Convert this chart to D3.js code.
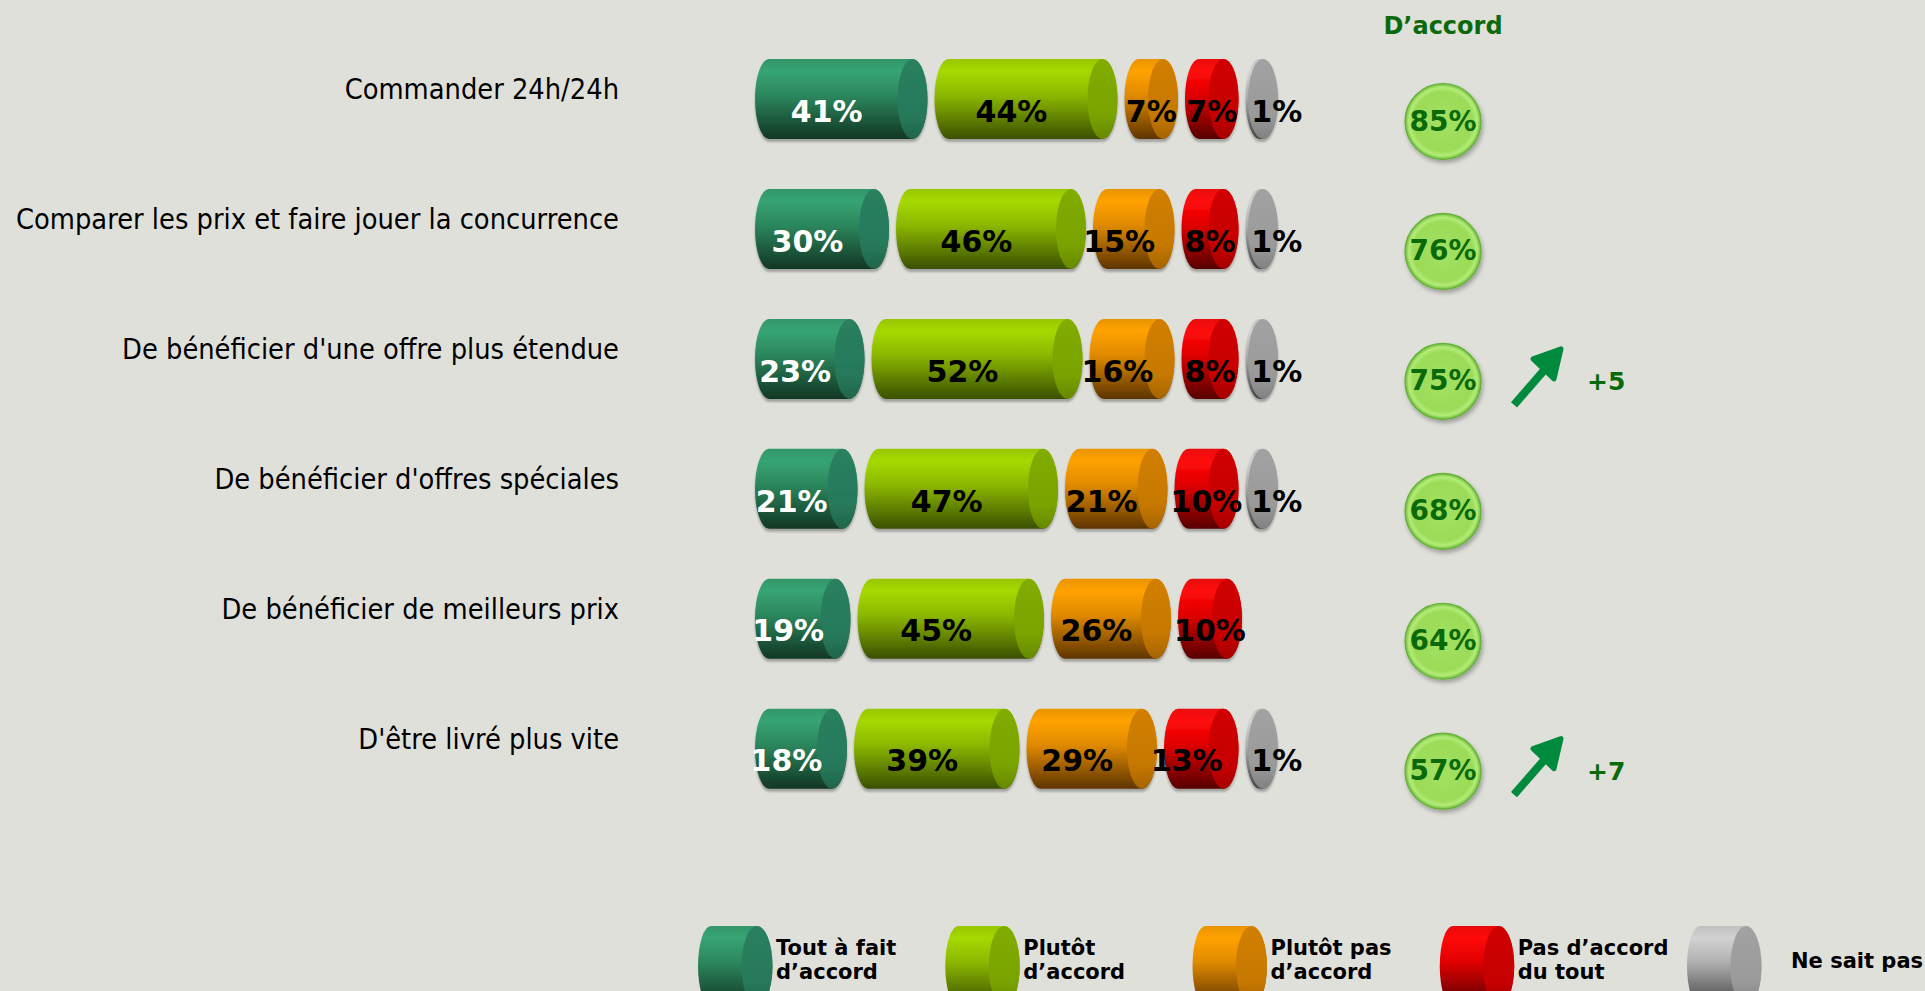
<!DOCTYPE html>
<html>
<head>
<meta charset="utf-8">
<script src="https://cdn.jsdelivr.net/npm/d3@7"></script>
<style>
  html, body { margin: 0; padding: 0; background: #e0e0db; overflow: hidden; }
  svg { display: block; }
</style>
</head>
<body>
<script>
// categories (rows, top to bottom)
const categories = [
  "Commander 24h/24h",
  "Comparer les prix et faire jouer la concurrence",
  "De bénéficier d'une offre plus étendue",
  "De bénéficier d'offres spéciales",
  "De bénéficier de meilleurs prix",
  "D'être livré plus vite"
];

// series values (%)
const toutAFait = [41, 30, 23, 21, 19, 18];
const plutot = [44, 46, 52, 47, 45, 39];
const plutotPas = [7, 15, 16, 21, 26, 29];
const pasDuTout = [7, 8, 8, 10, 10, 13];
const nsp = [1, 1, 1, 1, 0, 1];

const totalAccord = [85, 76, 75, 68, 64, 57];
const evolution = [null, null, 5, null, null, 7];

const legendLabels = [
  ["Tout à fait", "d’accord"],
  ["Plutôt", "d’accord"],
  ["Plutôt pas", "d’accord"],
  ["Pas d’accord", "du tout"],
  ["Ne sait pas"]
];

const series = [
  { key: "tout", values: toutAFait, top: "#37a473", mid: "#2c875d", bot: "#113624", cap: "#27795a", text: "#fff" },
  { key: "plutot", values: plutot, top: "#a6d900", mid: "#8cb800", bot: "#3a5000", cap: "#7aa300", text: "#000" },
  { key: "plutotpas", values: plutotPas, top: "#ffa200", mid: "#e08a00", bot: "#5e3400", cap: "#c67800", text: "#000" },
  { key: "pas", values: pasDuTout, top: "#ff0a0a", mid: "#e00000", bot: "#560000", cap: "#c60000", text: "#000" },
  { key: "nsp", values: nsp, top: "#d2d2d2", mid: "#b0b0b0", bot: "#444", cap: "#9a9a9a", text: "#000" }
];

const width = 1925, height = 991;
const barX0 = 755, gap = 7, rxL = 14, rxR = 15, ry = 40;

const svg = d3.select("body").append("svg")
  .attr("width", width).attr("height", height);

svg.append("rect").attr("width", width).attr("height", height).attr("fill", "#e0e0db");

const defs = svg.append("defs");
series.forEach(s => {
  const g = defs.append("linearGradient").attr("id", "body-" + s.key)
    .attr("x1", 0).attr("y1", 0).attr("x2", 0).attr("y2", 1);
  g.append("stop").attr("offset", "0%").attr("stop-color", d3.color(s.top).darker(0.25));
  g.append("stop").attr("offset", "15%").attr("stop-color", s.top);
  g.append("stop").attr("offset", "45%").attr("stop-color", s.mid);
  g.append("stop").attr("offset", "100%").attr("stop-color", s.bot);
  const c = defs.append("linearGradient").attr("id", "cap-" + s.key)
    .attr("x1", 0).attr("y1", 0).attr("x2", 0).attr("y2", 1);
  c.append("stop").attr("offset", "0%").attr("stop-color", d3.color(s.cap).brighter(0.15));
  c.append("stop").attr("offset", "70%").attr("stop-color", s.cap);
  c.append("stop").attr("offset", "100%").attr("stop-color", d3.color(s.cap).darker(0.5));
});

const shadow = defs.append("filter").attr("id", "shadow")
  .attr("x", "-20%").attr("y", "-20%").attr("width", "140%").attr("height", "140%");
shadow.append("feDropShadow").attr("dx", 0).attr("dy", 3).attr("stdDeviation", 1.2)
  .attr("flood-color", "#000").attr("flood-opacity", 0.28);

const ballShadow = defs.append("filter").attr("id", "ballShadow")
  .attr("x", "-30%").attr("y", "-30%").attr("width", "160%").attr("height", "160%");
ballShadow.append("feDropShadow").attr("dx", 1.5).attr("dy", 3).attr("stdDeviation", 2)
  .attr("flood-color", "#000").attr("flood-opacity", 0.3);

const ball = defs.append("radialGradient").attr("id", "ball")
  .attr("cx", "50%").attr("cy", "50%").attr("r", "50%");
ball.append("stop").attr("offset", "0%").attr("stop-color", "#a4e162");
ball.append("stop").attr("offset", "78%").attr("stop-color", "#9bdb58");
ball.append("stop").attr("offset", "90%").attr("stop-color", "#b3ec77");
ball.append("stop").attr("offset", "100%").attr("stop-color", "#6bb83c");

// scales
const y = d3.scalePoint().domain(categories).range([99, 748.7]);
const x = d3.scaleLinear().domain([0, 100]).range([0, 350]);

function cylPath(x0, len, cy, ry, rl, rr) {
  const a = x0 + rl, b = a + len;
  return `M${a},${cy - ry}L${b},${cy - ry}A${rr},${ry} 0 0 1 ${b},${cy + ry}` +
    `L${a},${cy + ry}A${rl},${ry} 0 0 1 ${a},${cy - ry}Z`;
}

// build segments
const segments = [];
categories.forEach((cat, i) => {
  let x0 = barX0;
  series.forEach((s, j) => {
    const v = s.values[i];
    if (!v) return;
    const len = x(v);
    const w = len + rxL + rxR;
    segments.push({ cat, v, s, j, x0, len, w, cy: y(cat) });
    x0 += w + gap;
  });
});

// category labels
svg.append("g").selectAll("text").data(categories).join("text")
  .attr("transform", d => `translate(619,${y(d)}) scale(0.89,1)`)
  .attr("text-anchor", "end")
  .attr("font-family", "DejaVu Sans, Verdana, sans-serif")
  .attr("font-size", 29)
  .attr("fill", "#000")
  .text(d => d);

// bars
const bars = svg.append("g").attr("filter", "url(#shadow)");
const seg = bars.selectAll("g").data(segments).join("g");
seg.append("path")
  .attr("d", d => cylPath(d.x0, d.len, d.cy, ry, rxL, rxR))
  .attr("fill", d => `url(#body-${d.s.key})`);
seg.append("ellipse")
  .attr("cx", d => d.x0 + rxL + d.len)
  .attr("cy", d => d.cy)
  .attr("rx", rxR).attr("ry", ry)
  .attr("fill", d => `url(#cap-${d.s.key})`);

// value labels
svg.append("g").selectAll("text").data(segments).join("text")
  .attr("x", d => {
    if (d.len > 40) return d.x0 + d.len / 2;
    return d.x0 + d.w / 2 + (d.j === 4 ? 15 : 0);
  })
  .attr("y", d => d.cy + 22.7)
  .attr("text-anchor", "middle")
  .attr("font-family", "DejaVu Sans, Verdana, sans-serif")
  .attr("font-weight", "bold")
  .attr("font-size", 30)
  .attr("fill", d => d.s.text)
  .text(d => d.v + "%");

// D'accord column
const ballX = 1443;
svg.append("text")
  .attr("x", ballX).attr("y", 34)
  .attr("text-anchor", "middle")
  .attr("font-family", "DejaVu Sans, Verdana, sans-serif")
  .attr("font-weight", "bold").attr("font-size", 24)
  .attr("fill", "#0a6a0a")
  .text("D’accord");

const balls = svg.append("g").selectAll("g").data(categories).join("g")
  .attr("transform", d => `translate(${ballX},${y(d) + 22.5})`);
balls.append("circle").attr("r", 38)
  .attr("fill", "url(#ball)")
  .attr("stroke", "#62b034").attr("stroke-width", 1.2)
  .attr("filter", "url(#ballShadow)");
balls.append("text")
  .attr("y", 9)
  .attr("text-anchor", "middle")
  .attr("font-family", "DejaVu Sans, Verdana, sans-serif")
  .attr("font-weight", "bold").attr("font-size", 28)
  .attr("fill", "#0a6a0a")
  .text((d, i) => totalAccord[i] + "%");

// evolution arrows
const evo = categories.map((c, i) => ({ c, v: evolution[i] })).filter(d => d.v != null);
const arrows = svg.append("g").selectAll("g").data(evo).join("g")
  .attr("transform", d => `translate(0,${y(d.c)})`);
arrows.append("line")
  .attr("x1", 1514).attr("y1", 46).attr("x2", 1554).attr("y2", 0)
  .attr("stroke", "#008a3e").attr("stroke-width", 8);
arrows.append("path")
  .attr("d", "M1533,0L1561,-10L1554,20Z")
  .attr("fill", "#008a3e").attr("stroke", "#008a3e")
  .attr("stroke-width", 5).attr("stroke-linejoin", "round");
arrows.append("text")
  .attr("x", 1587).attr("y", 31)
  .attr("font-family", "DejaVu Sans, Verdana, sans-serif")
  .attr("font-weight", "bold").attr("font-size", 25)
  .attr("fill", "#0a6a0a")
  .text(d => "+" + d.v);

// legend
const lx = d3.scalePoint().domain(d3.range(series.length)).range([698, 1687]);
const legendCy = 966, legendLen = 46;
const leg = svg.append("g").selectAll("g").data(series).join("g");
leg.append("path")
  .attr("d", (d, i) => cylPath(lx(i), legendLen, legendCy, ry, 13, 15.5))
  .attr("fill", d => `url(#body-${d.key})`);
leg.append("ellipse")
  .attr("cx", (d, i) => lx(i) + 13 + legendLen)
  .attr("cy", legendCy).attr("rx", 15.5).attr("ry", ry)
  .attr("fill", d => `url(#cap-${d.key})`);
const lt = leg.append("text")
  .attr("font-family", "DejaVu Sans, Verdana, sans-serif")
  .attr("font-weight", "bold").attr("font-size", 21)
  .attr("fill", "#000");
lt.selectAll("tspan").data((d, i) => legendLabels[i].map((t, k, arr) => ({ t, k, n: arr.length, i })))
  .join("tspan")
  .attr("x", d => lx(d.i) + (d.n === 1 ? 104 : 78))
  .attr("y", d => d.n === 1 ? 968 : 955 + d.k * 24)
  .text(d => d.t);
</script>
</body>
</html>
